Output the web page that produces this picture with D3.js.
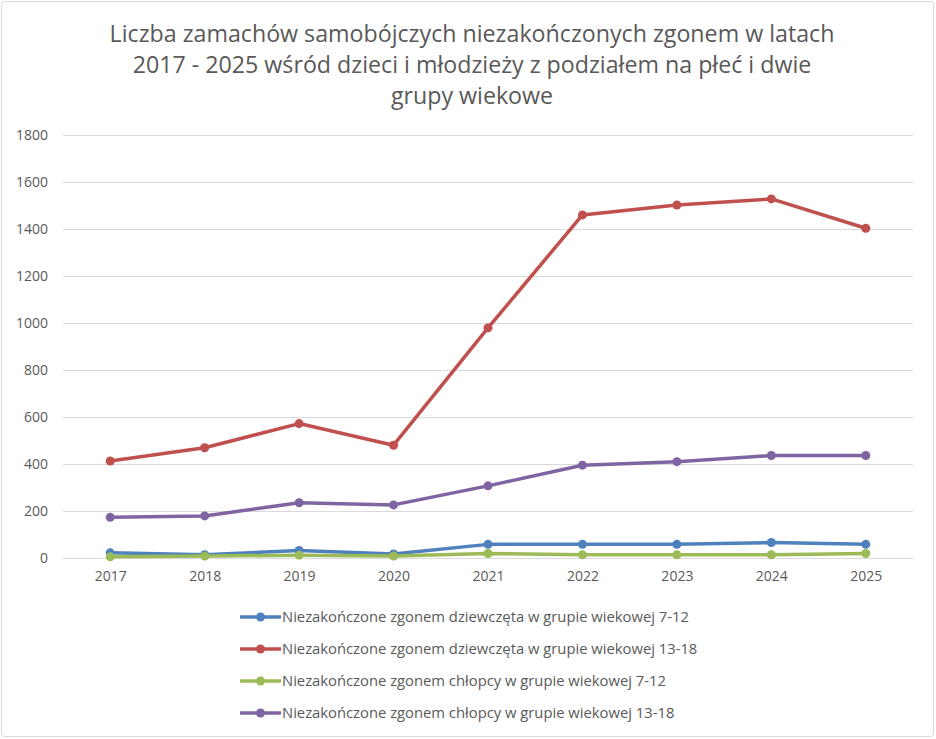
<!DOCTYPE html>
<html><head><meta charset="utf-8">
<script src="https://cdn.jsdelivr.net/npm/d3@7/dist/d3.min.js"></script>
<style>
html,body{margin:0;padding:0;background:#fff;}
svg{display:block;}
text{font-family:"Open Sans",sans-serif;fill:#595959;}
</style></head>
<body>
<svg id="chart" width="936" height="739"></svg>
<script>
const years = ["2017","2018","2019","2020","2021","2022","2023","2024","2025"];
const girls712  = [22, 14, 32, 17, 58, 58, 58, 66, 58];
const girls1318 = [413, 469, 572, 480, 979, 1460, 1502, 1528, 1403];
const boys712   = [5, 8, 12, 8, 19, 14, 14, 14, 19];
const boys1318  = [173, 179, 235, 226, 307, 395, 410, 436, 436];
const seriesNames = [
  "Niezakończone zgonem dziewczęta w grupie wiekowej 7-12",
  "Niezakończone zgonem dziewczęta w grupie wiekowej 13-18",
  "Niezakończone zgonem chłopcy w grupie wiekowej 7-12",
  "Niezakończone zgonem chłopcy w grupie wiekowej 13-18"
];
const seriesColors = ["#4F81BD", "#C0504D", "#9BBB59", "#8064A2"];
const yTicks = [0,200,400,600,800,1000,1200,1400,1600,1800];
const titleLines = [
  "Liczba zamachów samobójczych niezakończonych zgonem w latach",
  "2017 - 2025 wśród dzieci i młodzieży z podziałem na płeć i dwie",
  "grupy wiekowe"
];
const seriesValues = [girls712, girls1318, boys712, boys1318];

const svg = d3.select("#chart");
svg.append("rect").attr("x",1.5).attr("y",1.5).attr("width",932).attr("height",735)
  .attr("rx",3).attr("fill","#fff").attr("stroke","#D9D9D9").attr("stroke-width",1);

const x = d3.scalePoint().domain(years).range([63, 913]).padding(0.5);
const y = d3.scaleLinear().domain([0,1800]).range([558,135]);

function fitSize(sel, targetWidth, baseSize){
  sel.style("font-size", baseSize+"px");
  const w = sel.node().getComputedTextLength();
  return (baseSize*targetWidth/w).toFixed(2)+"px";
}

// title
const titleBase = [42, 73, 104];
const titleText = svg.append("g").selectAll("text").data(titleLines).join("text")
  .attr("x",472).attr("y",(d,i)=>titleBase[i]).attr("text-anchor","middle").text(d=>d);
const tSize = fitSize(d3.select(titleText.nodes()[0]), 725, 21);
titleText.style("font-size", tSize);

// gridlines
svg.append("g").selectAll("line").data(yTicks).join("line")
  .attr("x1",63).attr("x2",913).attr("y1",d=>Math.round(y(d))+0.5).attr("y2",d=>Math.round(y(d))+0.5)
  .attr("stroke","#D9D9D9").attr("stroke-width",1);

// y axis labels
const yAxis = d3.axisLeft(y).tickValues(yTicks).tickFormat(d3.format("d")).tickSize(0).tickPadding(0);
const gy = svg.append("g").attr("transform","translate(48,0)").call(yAxis);
gy.select(".domain").remove();
gy.selectAll("text").style("font-family","'Open Sans',sans-serif").style("font-size","14px").attr("fill","#595959");

// x axis labels
const xAxis = d3.axisBottom(x).tickSize(0).tickPadding(0);
const gx = svg.append("g").attr("transform","translate(0,571)").call(xAxis);
gx.select(".domain").remove();
gx.selectAll("text").style("font-family","'Open Sans',sans-serif").style("font-size","14px").attr("fill","#595959");

// lines
const line = d3.line().x((d,i)=>x(years[i])).y(d=>y(d));
seriesValues.forEach((vals,si)=>{
  const g = svg.append("g");
  g.append("path").datum(vals).attr("d",line).attr("fill","none")
    .attr("stroke",seriesColors[si]).attr("stroke-width",3.5).attr("stroke-linejoin","round").attr("stroke-linecap","round");
  g.selectAll("circle").data(vals).join("circle")
    .attr("cx",(d,i)=>x(years[i])).attr("cy",d=>y(d)).attr("r",4.5).attr("fill",seriesColors[si]);
});

// legend
const legY = [617, 649, 681, 713];
const leg = svg.append("g").selectAll("g").data(seriesNames).join("g")
  .attr("transform",(d,i)=>`translate(0,${legY[i]})`);
leg.append("line").attr("x1",240).attr("x2",281).attr("y1",0).attr("y2",0)
  .attr("stroke",(d,i)=>seriesColors[i]).attr("stroke-width",3.5);
leg.append("circle").attr("cx",260.5).attr("cy",0).attr("r",4.5).attr("fill",(d,i)=>seriesColors[i]);
const legText = leg.append("text").attr("x",282).attr("y",0).attr("dy","0.35em").text(d=>d);
const lSize = fitSize(d3.select(legText.nodes()[0]), 407, 14);
legText.style("font-size", lSize);
</script>
</body></html>
